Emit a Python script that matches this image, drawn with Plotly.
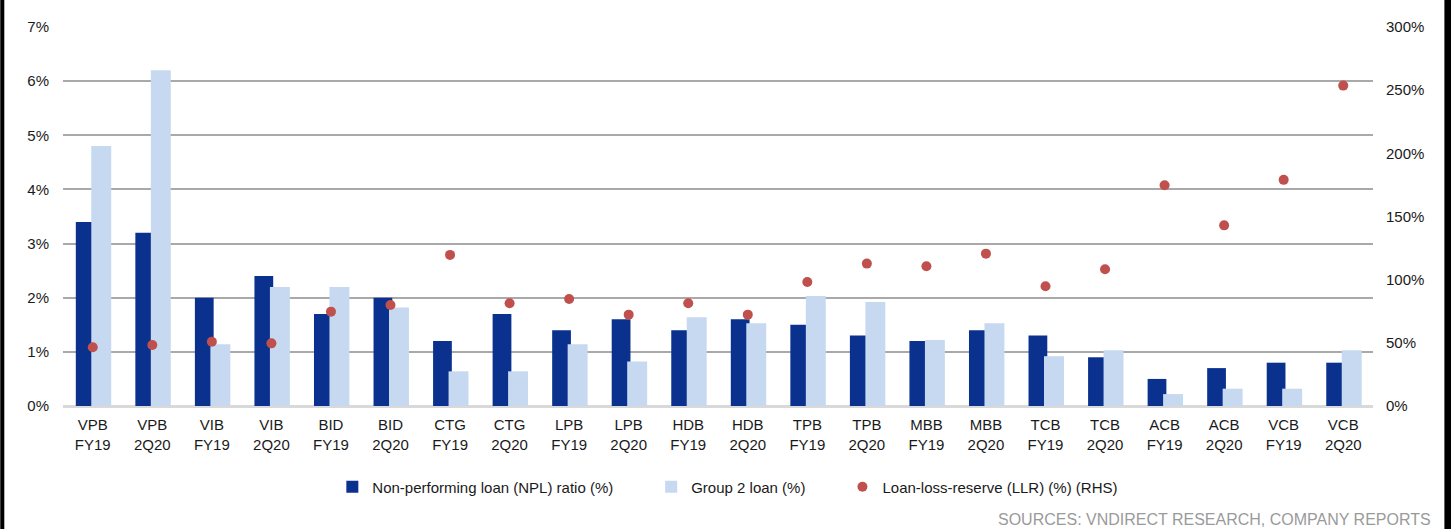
import plotly.graph_objects as go

banks = ["VPB", "VPB", "VIB", "VIB", "BID", "BID", "CTG", "CTG", "LPB", "LPB", "HDB",
         "HDB", "TPB", "TPB", "MBB", "MBB", "TCB", "TCB", "ACB", "ACB", "VCB", "VCB"]
periods = ["FY19", "2Q20"] * 11
categories = [f"{b}<br>{p}" for b, p in zip(banks, periods)]

npl_ratio = [3.4, 3.2, 2.0, 2.4, 1.7, 2.0, 1.2, 1.7, 1.4, 1.6, 1.4,
             1.6, 1.5, 1.3, 1.2, 1.4, 1.3, 0.9, 0.5, 0.7, 0.8, 0.8]
group2_loan = [4.8, 6.2, 1.14, 2.2, 2.2, 1.82, 0.64, 0.64, 1.14, 0.82, 1.64,
               1.53, 2.03, 1.92, 1.22, 1.53, 0.92, 1.03, 0.22, 0.32, 0.32, 1.03]
llr = [46.5, 48.3, 50.9, 49.6, 74.7, 80.0, 119.6, 81.3, 84.7, 72.3, 81.3,
       72.3, 98.2, 112.7, 110.6, 120.6, 94.8, 108.2, 174.7, 143.0, 179.0, 253.6]

left_ticks = [0, 1, 2, 3, 4, 5, 6, 7]
right_ticks = [0, 50, 100, 150, 200, 250, 300]

DARK = "#0B318F"
LIGHT = "#C6D9F0"
RED = "#C0504D"
FONT = "Liberation Sans, Arial, sans-serif"

fig = go.Figure()
fig.add_trace(go.Bar(
    x=categories, y=npl_ratio, name="Non-performing loan (NPL) ratio (%)",
    marker=dict(color=DARK, line=dict(width=0)),
    offset=-0.285, width=0.315, legend="legend", showlegend=True,
))
fig.add_trace(go.Bar(
    x=categories, y=group2_loan, name="Group 2 loan (%)",
    marker=dict(color=LIGHT, line=dict(width=0)),
    offset=-0.025, width=0.335, legend="legend2", showlegend=True,
))
fig.add_trace(go.Scatter(
    x=categories, y=llr, name="Loan-loss-reserve (LLR) (%) (RHS)",
    mode="markers", marker=dict(color=RED, size=10),
    yaxis="y2", legend="legend3", showlegend=True,
))

legend_common = dict(orientation="h", yanchor="middle", xanchor="left",
                     font=dict(family=FONT, size=15, color="#1a1a1a"),
                     bgcolor="rgba(0,0,0,0)", borderwidth=0, visible=True)

fig.update_layout(
    width=1451, height=529,
    margin=dict(l=63, r=78, t=27, b=123),
    paper_bgcolor="white", plot_bgcolor="white",
    barmode="overlay",
    showlegend=True,
    font=dict(family=FONT, size=15, color="#1a1a1a"),
    xaxis=dict(
        type="category", showgrid=False, showline=False, ticks="",
        tickfont=dict(family=FONT, size=15, color="#1a1a1a"),
        range=[-0.5, len(categories) - 0.5], ticklabelstandoff=8,
    ),
    yaxis=dict(
        range=[0, 7], tickvals=left_ticks, ticktext=[f"{v}%" for v in left_ticks],
        showgrid=True, gridcolor="#a9a9a9", gridwidth=2,
        zeroline=True, zerolinecolor="#d9d9d9", zerolinewidth=3,
        showline=False, ticks="", ticklabelstandoff=13,
        tickfont=dict(family=FONT, size=15, color="#1a1a1a"),
    ),
    yaxis2=dict(
        range=[0, 300], tickvals=right_ticks, ticktext=[f"{v}%" for v in right_ticks],
        overlaying="y", side="right", showgrid=False, zeroline=False,
        showline=False, ticks="", ticklabelstandoff=12,
        tickfont=dict(family=FONT, size=15, color="#1a1a1a"),
    ),
    legend=dict(x=0.2056, y=-0.2137, **legend_common),
    legend2=dict(x=0.449, y=-0.2137, **legend_common),
    legend3=dict(x=0.595, y=-0.2137, **legend_common),
    annotations=[dict(
        text="SOURCES: VNDIRECT RESEARCH, COMPANY REPORTS",
        xref="paper", yref="paper", x=1.0455, y=-0.3,
        xanchor="right", yanchor="middle", showarrow=False,
        font=dict(family=FONT, size=16, color="#9a9a9a"),
    )],
    shapes=[
        dict(type="rect", xref="paper", yref="paper", x0=-0.0479, x1=-0.0448,
             y0=-0.33, y1=1.08, fillcolor="black", line=dict(width=0), layer="above"),
        dict(type="rect", xref="paper", yref="paper", x0=1.0545, x1=1.06,
             y0=-0.33, y1=1.08, fillcolor="black", line=dict(width=0), layer="above"),
    ],
)

fig.write_html("out.html")
